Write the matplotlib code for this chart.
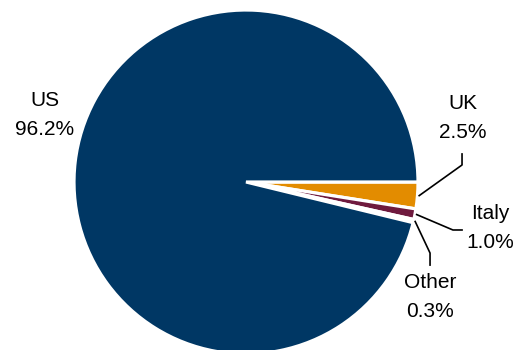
import numpy as np
import matplotlib.pyplot as plt

plt.rcParams['font.family'] = ['Liberation Sans', 'DejaVu Sans']

# data
countries = ['UK', 'Italy', 'Other', 'US']
shares = [2.5, 1.0, 0.3, 96.2]
colors = ['#E38C00', '#6F1A3E', '#003764', '#003764']

# label layout (data coords, pie radius = 1)
label_pos = {
    'US':    (-1.17, 0.39),
    'UK':    (1.262, 0.372),
    'Italy': (1.419, -0.267),
    'Other': (1.070, -0.669),
}
# leader lines: elbow point and end point
leaders = {
    'UK':    [(1.256, 0.099), (1.256, 0.163)],
    'Italy': [(1.203, -0.279), (1.256, -0.279)],
    'Other': [(1.070, -0.413), (1.070, -0.483)],
}

fig = plt.figure(figsize=(5.15, 3.5), dpi=100)
cx, cy, r = 246, 350 - 182, 172
ax = fig.add_axes([(cx - r) / 515, (cy - r) / 350, 2 * r / 515, 2 * r / 350])

wedges, _ = ax.pie(shares, colors=colors, startangle=0, counterclock=False,
                   radius=1, wedgeprops=dict(edgecolor='white', linewidth=2.3))
ax.set_xlim(-1, 1)
ax.set_ylim(-1, 1)
ax.set_aspect('equal')
ax.axis('off')

for w, name, val in zip(wedges, countries, shares):
    tx, ty = label_pos[name]
    ax.text(tx, ty, f'{name}\n{val:.1f}%', ha='center', va='center',
            fontsize=15, linespacing=1.7, clip_on=False)
    if name in leaders:
        mid = np.deg2rad((w.theta1 + w.theta2) / 2)
        pts = [(1.01 * np.cos(mid), 1.01 * np.sin(mid))] + leaders[name]
        xs, ys = zip(*pts)
        ax.plot(xs, ys, color='black', lw=1.2, clip_on=False)

fig.savefig('out.png', dpi=100)
